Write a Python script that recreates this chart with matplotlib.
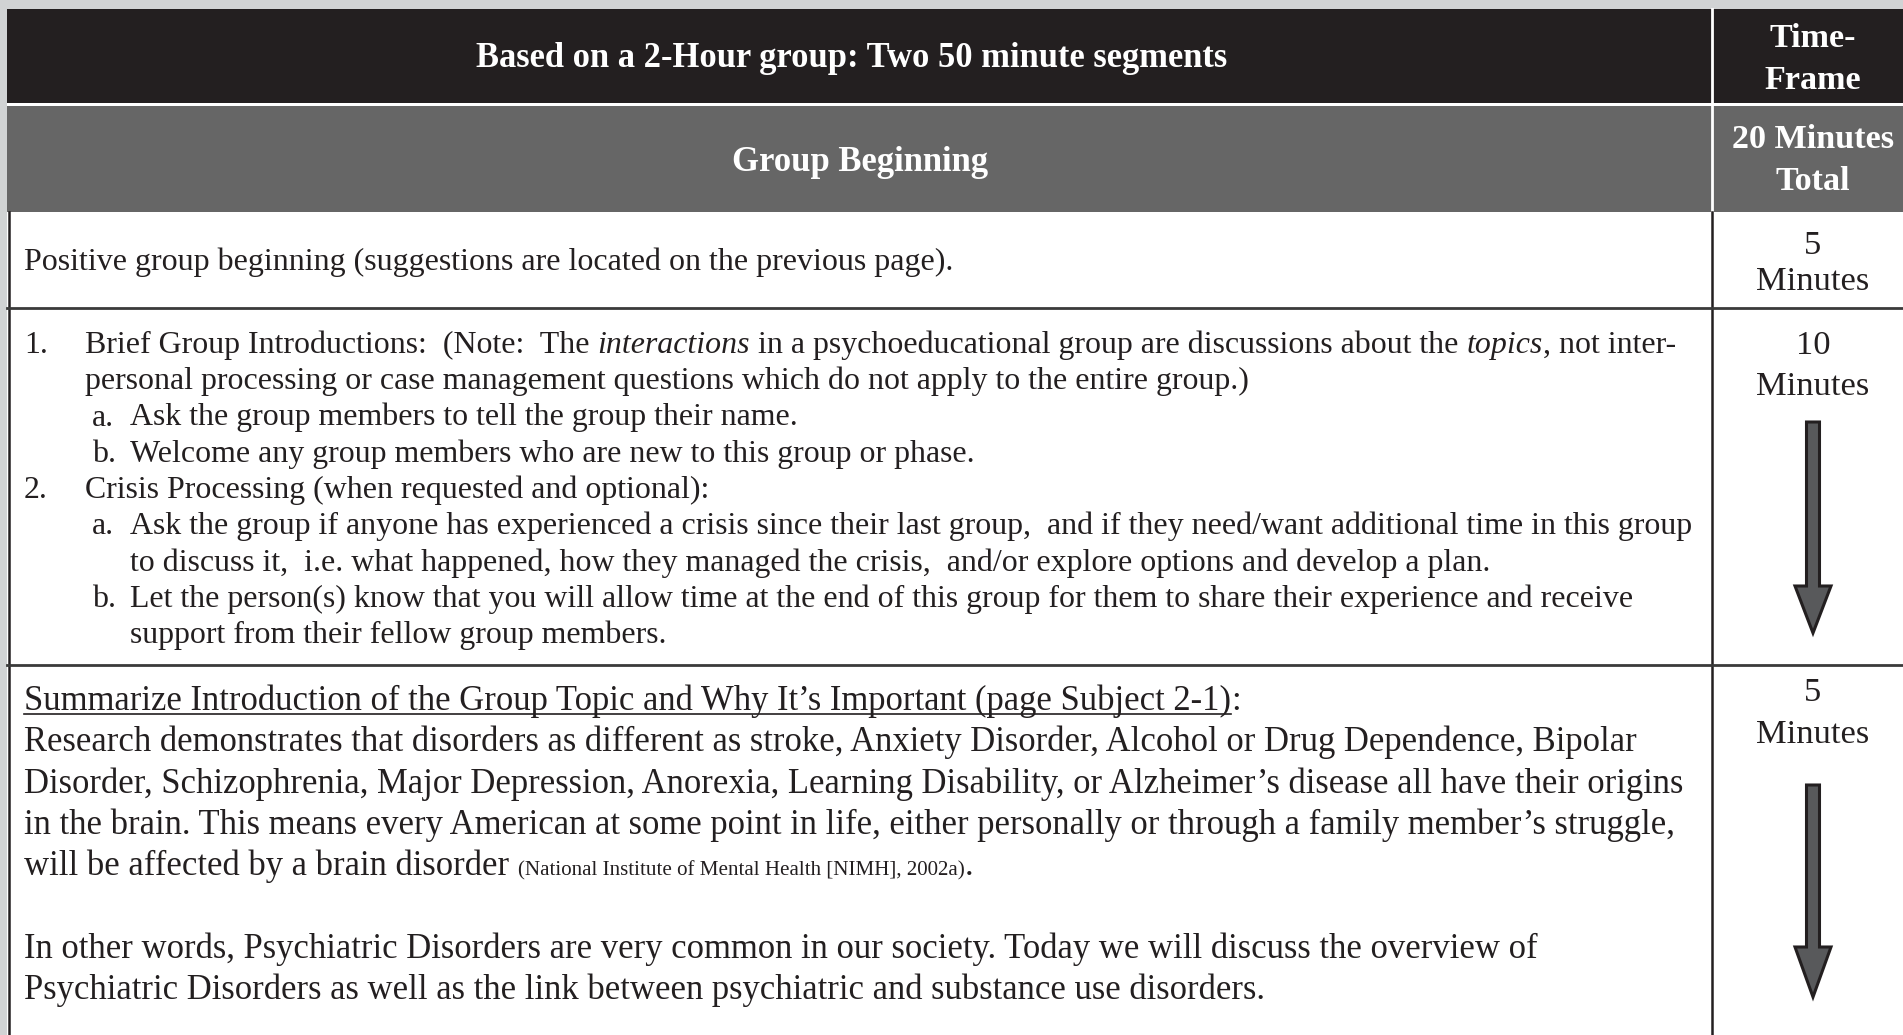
import matplotlib
matplotlib.use("Agg")
import matplotlib.pyplot as plt
from matplotlib.patches import Rectangle, Polygon

# ---- table content ----
title = "Based on a 2-Hour group: Two 50 minute segments"
time_head = ["Time-", "Frame"]
section = "Group Beginning"
section_time = ["20 Minutes", "Total"]

row1_text = "Positive group beginning (suggestions are located on the previous page)."
row1_time = ["5", "Minutes"]

# (marker, indent level, [(text, style), ...])   style: n normal, i italic
row2_lines = [
    ("1.", 0, [("Brief Group Introductions:  (Note:  The ", "n"), ("interactions", "i"),
               (" in a psychoeducational group are discussions about the ", "n"), ("topics", "i"),
               (", not inter-", "n")]),
    ("", 0, [("personal processing or case management questions which do not apply to the entire group.)", "n")]),
    ("a.", 1, [("Ask the group members to tell the group their name.", "n")]),
    ("b.", 1, [("Welcome any group members who are new to this group or phase.", "n")]),
    ("2.", 0, [("Crisis Processing (when requested and optional):", "n")]),
    ("a.", 1, [("Ask the group if anyone has experienced a crisis since their last group,  and if they need/want additional time in this group", "n")]),
    ("", 1, [("to discuss it,  i.e. what happened, how they managed the crisis,  and/or explore options and develop a plan.", "n")]),
    ("b.", 1, [("Let the person(s) know that you will allow time at the end of this group for them to share their experience and receive", "n")]),
    ("", 1, [("support from their fellow group members.", "n")]),
]
row2_time = ["10", "Minutes"]

# style: n normal, u underlined, s small
row3_lines = [
    [("Summarize Introduction of the Group Topic and Why It\u2019s Important (page Subject 2-1)", "u"), (":", "n")],
    [("Research demonstrates that disorders as different as stroke, Anxiety Disorder, Alcohol or Drug Dependence, Bipolar", "n")],
    [("Disorder, Schizophrenia, Major Depression, Anorexia, Learning Disability, or Alzheimer\u2019s disease all have their origins", "n")],
    [("in the brain. This means every American at some point in life, either personally or through a family member\u2019s struggle,", "n")],
    [("will be affected by a brain disorder ", "n"), ("(National Institute of Mental Health [NIMH], 2002a)", "s"), (".", "n")],
    [],
    [("In other words, Psychiatric Disorders are very common in our society. Today we will discuss the overview of", "n")],
    [("Psychiatric Disorders as well as the link between psychiatric and substance use disorders.", "n")],
]
row3_time = ["5", "Minutes"]

# ---- layout (pixels) ----
W, H = 1903, 1035
X0, XSEP, X1 = 7, 1712, 1925
Y_HEAD, Y_SEC, Y_R1, Y_R2, Y_R3 = 9, 106, 212, 308, 665
TCX = 1813
INK = "#231f20"
SERIF = "Liberation Serif"

fig = plt.figure(figsize=(W / 100, H / 100), dpi=100, facecolor="#d1d3d4")
ax = fig.add_axes([0, 0, 1, 1])
ax.set_xlim(0, W)
ax.set_ylim(H, 0)
ax.axis("off")
renderer = fig.canvas.get_renderer()


def width_of(s, size, **kw):
    t = ax.text(0, 0, s, fontsize=size, family=SERIF, **kw)
    w = t.get_window_extent(renderer).width
    t.remove()
    return w


def fit(s, target, **kw):
    return 20 * target / width_of(s, 20, **kw)


# background blocks
ax.add_patch(Rectangle((X0, Y_HEAD), X1 - X0, H - Y_HEAD, color="white", lw=0))
ax.add_patch(Rectangle((X0, Y_HEAD), X1 - X0, Y_SEC - 3 - Y_HEAD, color=INK, lw=0))
ax.add_patch(Rectangle((X0, Y_SEC), X1 - X0, Y_R1 - Y_SEC, color="#666666", lw=0))
ax.plot([XSEP, XSEP], [Y_HEAD, Y_R1], color="white", lw=2)

# body grid
ax.plot([X0 + 1.5, X0 + 1.5], [Y_R1, H], color=INK, lw=1.8)
ax.plot([XSEP, XSEP], [Y_R1, H], color=INK, lw=1.8)
for yy in (Y_R2, Y_R3):
    ax.plot([X0, X1], [yy, yy], color="#3a3a3a", lw=2.0)

# header text
s_title = fit(title, 752, weight="bold")
ax.text(852, 67, title, fontsize=s_title, family=SERIF, weight="bold", color="white",
        ha="center", va="baseline")
ax.text(860, 171, section, fontsize=fit(section, 256, weight="bold"), family=SERIF,
        weight="bold", color="white", ha="center", va="baseline")
s_th = fit("20 Minutes", 162, weight="bold")
for txt, yy in zip(time_head, (47, 89)):
    ax.text(TCX, yy, txt, fontsize=s_th, family=SERIF, weight="bold", color="white",
            ha="center", va="baseline")
for txt, yy in zip(section_time, (148, 190)):
    ax.text(TCX, yy, txt, fontsize=s_th, family=SERIF, weight="bold", color="white",
            ha="center", va="baseline")

# time column text
s_t = fit("Minutes", 113)
for lines, ys in ((row1_time, (254, 290)), (row2_time, (354, 395)), (row3_time, (701, 743))):
    for txt, yy in zip(lines, ys):
        ax.text(TCX, yy, txt, fontsize=s_t, family=SERIF, color=INK, ha="center", va="baseline")


def draw_runs(x, y, runs, size, small):
    for txt, st in runs:
        kw = dict(fontsize=size, family=SERIF, color=INK, ha="left", va="baseline")
        if st == "i":
            kw["style"] = "italic"
        if st == "s":
            kw["fontsize"] = small
        t = ax.text(x, y, txt, **kw)
        w = t.get_window_extent(renderer).width
        if st == "u":
            ax.plot([x, x + w], [y + 4, y + 4], color=INK, lw=1.2)
        x += w
    return x


# row 1
s1 = fit(row1_text, 929)
ax.text(24, 270, row1_text, fontsize=s1, family=SERIF, color=INK, ha="left", va="baseline")

# row 2
s2 = fit(row2_lines[5][2][0][0], 1565)
for i, (mark, lvl, runs) in enumerate(row2_lines):
    y = 353 + i * 36.25
    mx, tx = (24, 85) if lvl == 0 else (92, 130)
    if mark:
        ax.text(mx, y, mark, fontsize=s2, family=SERIF, color=INK, ha="left", va="baseline")
    draw_runs(tx, y, runs, s2, s2)

# row 3
s3 = fit(row3_lines[1][0][0], 1612)
s3s = fit(row3_lines[4][1][0], 445)
for i, runs in enumerate(row3_lines):
    draw_runs(24, 710 + i * 41.3, runs, s3, s3s)

# arrows in the time column
for top, head, tip in ((422, 586, 633), (785, 947, 997)):
    pts = [(TCX - 6.5, top), (TCX + 6.5, top), (TCX + 6.5, head), (TCX + 18, head),
           (TCX, tip), (TCX - 18, head), (TCX - 6.5, head)]
    ax.add_patch(Polygon(pts, closed=True, facecolor="#58595b", edgecolor=INK, lw=2.2,
                         joinstyle="miter"))

fig.savefig("out.png", dpi=100, facecolor=fig.get_facecolor())
